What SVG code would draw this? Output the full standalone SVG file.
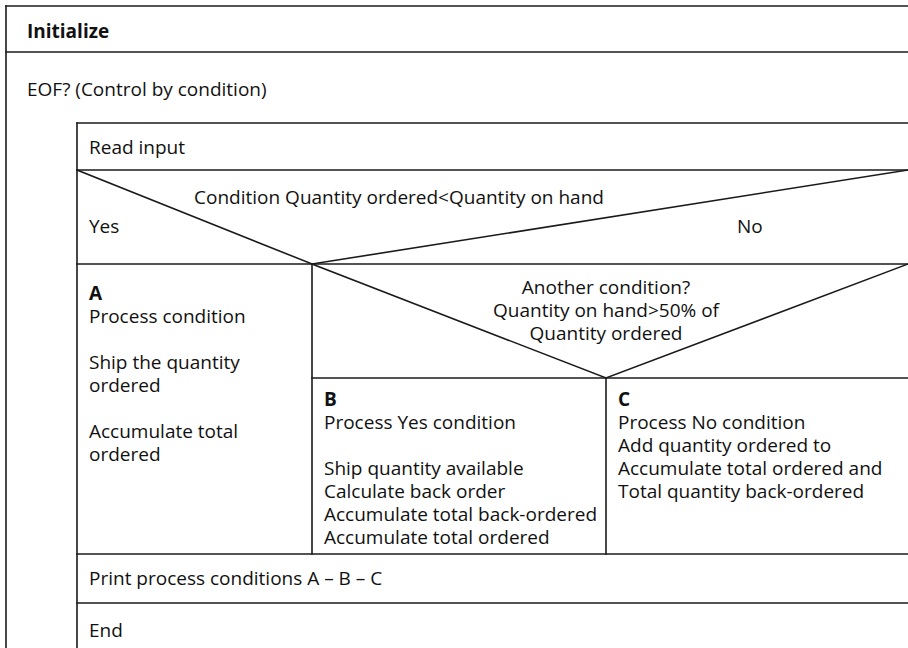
<svg xmlns="http://www.w3.org/2000/svg" width="908" height="648" viewBox="0 0 908 648">
  <style>
    .ln { stroke: #1a1a1a; stroke-width: 1.6; fill: none; stroke-linecap: square; }
    .t { font-family: "Open Sans", "Liberation Sans", Arial, sans-serif; font-size: 19px; font-weight: 500; fill: #111; }
    .b { font-weight: bold; }
    .c { text-anchor: middle; }
  </style>
  <rect width="908" height="648" fill="#ffffff"/>

  <!-- structure lines of the chart -->
  <g id="connectors">
    <!-- outer frame -->
    <line class="ln" x1="6" y1="6" x2="908" y2="6"/>
    <line class="ln" x1="6" y1="6" x2="6" y2="648"/>
    <line class="ln" x1="6" y1="52" x2="908" y2="52"/>
    <!-- inner loop body -->
    <line class="ln" x1="77" y1="123" x2="908" y2="123"/>
    <line class="ln" x1="77" y1="123" x2="77" y2="648"/>
    <line class="ln" x1="77" y1="170" x2="908" y2="170"/>
    <!-- first decision -->
    <polyline class="ln" points="77,170 312,264 908,170"/>
    <line class="ln" x1="77" y1="264" x2="908" y2="264"/>
    <line class="ln" x1="312" y1="264" x2="312" y2="554"/>
    <!-- second decision -->
    <polyline class="ln" points="312,264 606,378 908,264"/>
    <line class="ln" x1="312" y1="378" x2="908" y2="378"/>
    <line class="ln" x1="606" y1="378" x2="606" y2="554"/>
    <!-- closing steps -->
    <line class="ln" x1="77" y1="554" x2="908" y2="554"/>
    <line class="ln" x1="77" y1="603" x2="908" y2="603"/>
  </g>

  <g id="initialize">
    <text class="t b" x="27" y="38">Initialize</text>
  </g>
  <g id="loop">
    <text class="t" x="27" y="96">EOF? (Control by condition)</text>
  </g>
  <g id="read-input">
    <text class="t" x="89" y="154">Read input</text>
  </g>
  <g id="condition">
    <text class="t c" x="399" y="204">Condition Quantity ordered&lt;Quantity on hand</text>
    <text class="t" x="89" y="233">Yes</text>
    <text class="t" x="737" y="233">No</text>
  </g>
  <g id="block-a">
    <text class="t b" x="89" y="300">A</text>
    <text class="t" x="89" y="323">Process condition</text>
    <text class="t" x="89" y="369">Ship the quantity</text>
    <text class="t" x="89" y="392">ordered</text>
    <text class="t" x="89" y="438">Accumulate total</text>
    <text class="t" x="89" y="461">ordered</text>
  </g>
  <g id="another-condition">
    <text class="t c" x="606" y="294">Another condition?</text>
    <text class="t c" x="606" y="317">Quantity on hand&gt;50% of</text>
    <text class="t c" x="606" y="340">Quantity ordered</text>
  </g>
  <g id="block-b">
    <text class="t b" x="324" y="406">B</text>
    <text class="t" x="324" y="429">Process Yes condition</text>
    <text class="t" x="324" y="475">Ship quantity available</text>
    <text class="t" x="324" y="498">Calculate back order</text>
    <text class="t" x="324" y="521">Accumulate total back-ordered</text>
    <text class="t" x="324" y="544">Accumulate total ordered</text>
  </g>
  <g id="block-c">
    <text class="t b" x="618" y="406">C</text>
    <text class="t" x="618" y="429">Process No condition</text>
    <text class="t" x="618" y="452">Add quantity ordered to</text>
    <text class="t" x="618" y="475">Accumulate total ordered and</text>
    <text class="t" x="618" y="498">Total quantity back-ordered</text>
  </g>
  <g id="print">
    <text class="t" x="89" y="585">Print process conditions A – B – C</text>
  </g>
  <g id="end">
    <text class="t" x="89" y="637">End</text>
  </g>
</svg>
